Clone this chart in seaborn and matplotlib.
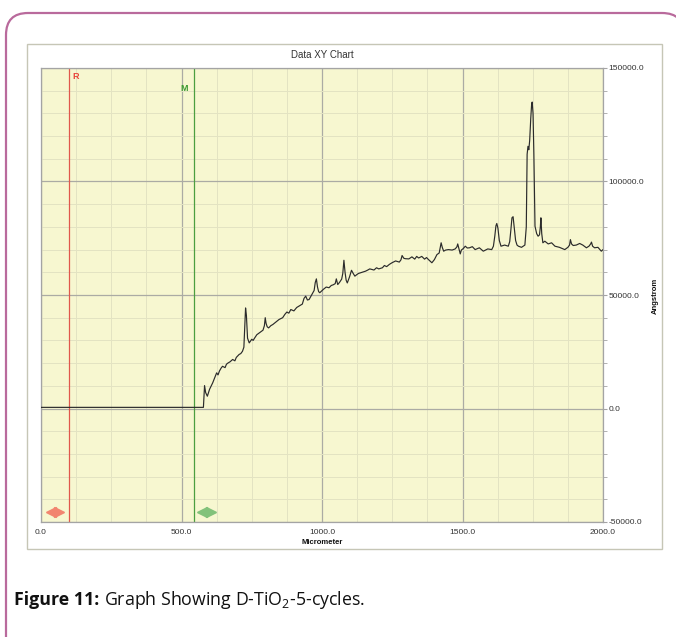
import matplotlib
matplotlib.use("Agg")
import matplotlib.pyplot as plt
from matplotlib.patches import PathPatch, Rectangle
from matplotlib.path import Path
from matplotlib.ticker import FixedLocator, MultipleLocator
import seaborn as sns

# Measured profile: position (micrometer) vs height (angstrom)
micrometer = [0, 100, 200, 300, 400, 500, 578, 582, 586, 592, 600, 606, 611, 618, 625,
              630, 635, 641, 646, 655, 660, 665, 673, 682, 690, 695, 705, 711, 717, 722,
              725, 728, 731, 735, 741, 750, 755, 760, 768, 777, 790, 795, 798, 801, 805,
              810, 818, 825, 835, 847, 860, 868, 875, 882, 889, 900, 910, 918, 930, 936,
              942, 948, 954, 965, 972, 976, 980, 984, 988, 992, 1005, 1015, 1025, 1033,
              1040, 1047, 1051, 1056, 1062, 1070, 1074, 1078, 1082, 1086, 1090, 1098,
              1105, 1111, 1117, 1124, 1130, 1142, 1155, 1163, 1170, 1185, 1194, 1202,
              1215, 1222, 1230, 1240, 1249, 1262, 1275, 1281, 1285, 1291, 1296, 1309,
              1320, 1330, 1337, 1344, 1355, 1365, 1372, 1379, 1391, 1400, 1409, 1417,
              1421, 1424, 1428, 1433, 1440, 1450, 1463, 1474, 1480, 1483, 1487, 1492,
              1496, 1503, 1510, 1517, 1525, 1535, 1545, 1560, 1574, 1590, 1604, 1610,
              1615, 1619, 1622, 1626, 1631, 1637, 1650, 1663, 1668, 1672, 1676, 1680,
              1684, 1689, 1694, 1699, 1710, 1722, 1727, 1730, 1733, 1736, 1739, 1743,
              1746, 1748, 1751, 1754, 1758, 1764, 1769, 1774, 1777, 1779, 1782, 1786,
              1793, 1805, 1817, 1829, 1845, 1864, 1875, 1881, 1884, 1888, 1894, 1905,
              1917, 1928, 1941, 1950, 1956, 1959, 1963, 1970, 1982, 1994, 2000]
angstrom = [500, 500, 500, 500, 500, 500, 500, 10100, 7000, 5400, 8500, 10000, 11300,
            13500, 15700, 14800, 16500, 17800, 18600, 18000, 19500, 20000, 20600, 21600,
            21000, 22500, 23800, 24200, 25200, 27000, 36000, 44300, 41000, 31000, 28900,
            30500, 30000, 31000, 32500, 33300, 34500, 36500, 40000, 37500, 36000, 35500,
            36500, 37000, 38000, 39200, 40000, 41500, 42500, 42000, 43600, 43000, 44500,
            45100, 46000, 48500, 49500, 47800, 48000, 50500, 52000, 55500, 57100, 53500,
            51500, 51000, 52500, 53500, 53200, 54200, 54500, 55000, 57100, 54600, 55500,
            57000, 59500, 65300, 60000, 56500, 55300, 58000, 60900, 59500, 58300, 59000,
            59500, 60000, 60500, 61000, 61500, 61000, 62000, 61500, 62000, 63000, 62500,
            63500, 64200, 65000, 64500, 65500, 67400, 66200, 66000, 65900, 66800, 65800,
            67000, 66300, 67000, 65800, 66500, 65600, 64200, 65600, 67800, 68500, 71000,
            73000, 71000, 69300, 69800, 70000, 69800, 70300, 71200, 72500, 70500, 68100,
            69800, 70500, 71500, 70700, 70800, 71300, 70000, 70800, 69300, 70300, 70000,
            71500, 76000, 80500, 81500, 79500, 74000, 71500, 72000, 71500, 73500, 78500,
            84000, 84500, 80000, 74000, 72000, 71500, 71000, 72000, 80000, 112000, 115500,
            114000, 118000, 128000, 134000, 135000, 130000, 112000, 80300, 77000, 75900,
            76500, 80000, 84000, 77000, 73000, 73700, 72500, 73000, 71500, 71000, 70000,
            71000, 72000, 74400, 72500, 71800, 72000, 72700, 72000, 70800, 71500, 72500,
            73300, 71500, 70800, 71000, 69300, 70000]

x_ticks = [0, 500, 1000, 1500, 2000]
y_ticks = [-50000, 0, 50000, 100000, 150000]
ref_cursor = 100     # "R" cursor position
meas_cursor = 543    # "M" cursor position

sns.set_style("white")
plt.rcParams["font.family"] = ["Liberation Sans", "DejaVu Sans"]

W, H = 676, 637
fig = plt.figure(figsize=(W / 100, H / 100), dpi=100)

# Page layer in pixel coordinates: framed panel, chart box and captions
bg = fig.add_axes([0, 0, 1, 1])
bg.set_xlim(0, W)
bg.set_ylim(H, 0)
bg.axis("off")
left, top, right, r = 6, 13, 684, 22
frame = Path([(left, H + 20), (left, top + r), (left, top), (left + r, top),
              (right - r, top), (right, top), (right, top + r), (right, H + 20)],
             [Path.MOVETO, Path.LINETO, Path.CURVE3, Path.CURVE3,
              Path.LINETO, Path.CURVE3, Path.CURVE3, Path.LINETO])
bg.add_patch(PathPatch(frame, fill=False, edgecolor="#b96a9c", lw=1.6, clip_on=False))
bg.add_patch(Rectangle((27, 44), 635, 505, facecolor="white", edgecolor="#c6c6b6", lw=1))
bg.text(322, 55, "Data XY Chart", ha="center", va="center", fontsize=7, color="#333333")
bg.text(322, 543, "Micrometer", ha="center", va="center", fontsize=5.5,
        fontweight="bold", color="#111111")
bg.text(655, 296, "Angstrom", ha="center", va="center", rotation=90, fontsize=5.5,
        fontweight="bold", color="#111111")

# Plot area
ax = fig.add_axes([41 / W, 1 - 522 / H, 562 / W, 454 / H])
ax.set_facecolor("#f7f7d0")
sns.lineplot(x=micrometer, y=angstrom, ax=ax, color="#2b2b2b", lw=0.85,
             estimator=None, zorder=3)
ax.set_xlim(0, 2000)
ax.set_ylim(-50000, 150000)

ax.xaxis.set_major_locator(FixedLocator(x_ticks))
ax.xaxis.set_minor_locator(MultipleLocator(125))
ax.yaxis.set_major_locator(FixedLocator(y_ticks))
ax.yaxis.set_minor_locator(MultipleLocator(10000))
ax.set_xticklabels([f"{v:.1f}" for v in x_ticks])
ax.set_yticklabels([f"{v:.1f}" for v in y_ticks])
ax.yaxis.tick_right()
ax.set_xlabel("")
ax.set_ylabel("")

ax.grid(which="minor", color="#e3e3c2", lw=0.7)
ax.grid(which="major", color="#ababa4", lw=0.9)
ax.set_axisbelow(True)
for s in ax.spines.values():
    s.set_color("#a4a4a4")
    s.set_linewidth(0.9)
ax.tick_params(which="both", direction="out", color="#a4a4a4", labelsize=6,
               labelcolor="#333333")
ax.tick_params(axis="x", which="major", length=2, pad=3)
ax.tick_params(axis="x", which="minor", length=2)
ax.tick_params(axis="y", which="major", length=3, pad=1)
ax.tick_params(axis="y", which="minor", length=3)

# Cursors
ax.axvline(ref_cursor, color="#e0584c", lw=0.9, zorder=2)
ax.axvline(meas_cursor, color="#4c9e40", lw=0.9, zorder=2)
ax.annotate("R", xy=(ref_cursor, 1), xycoords=("data", "axes fraction"),
            xytext=(2.7, -3), textcoords="offset points", ha="left", va="top",
            color="#e8433a", fontweight="bold", fontsize=6.5)
ax.annotate("M", xy=(meas_cursor, 1), xycoords=("data", "axes fraction"),
            xytext=(-4.3, -11.5), textcoords="offset points", ha="right", va="top",
            color="#3a9a30", fontweight="bold", fontsize=6.5)

# Cursor handles
ax.plot([35], [-45800], marker="<", ms=6.5, color="#f2856f", ls="none", clip_on=False)
ax.plot([64], [-45800], marker=">", ms=6.5, color="#f2856f", ls="none", clip_on=False)
ax.plot([574], [-45800], marker="<", ms=6.5, color="#82c27a", ls="none", clip_on=False)
ax.plot([606], [-45800], marker=">", ms=6.5, color="#82c27a", ls="none", clip_on=False)

# Figure caption
plt.rcParams["mathtext.fontset"] = "custom"
plt.rcParams["mathtext.rm"] = "Open Sans"
cap1 = fig.text(14 / W, 1 - 605 / H, "Figure 11:", fontsize=12.8, fontweight="bold",
                family="Open Sans", ha="left", va="baseline", color="#111111")
fig.canvas.draw()
bb = cap1.get_window_extent()
fig.text(bb.x1 / W + 5 / W, 1 - 605 / H, r"Graph Showing D-TiO$_\mathregular{2}$-5-cycles.",
         fontsize=12.8, family="Open Sans", ha="left", va="baseline", color="#111111")

fig.savefig("out.png", dpi=100)
